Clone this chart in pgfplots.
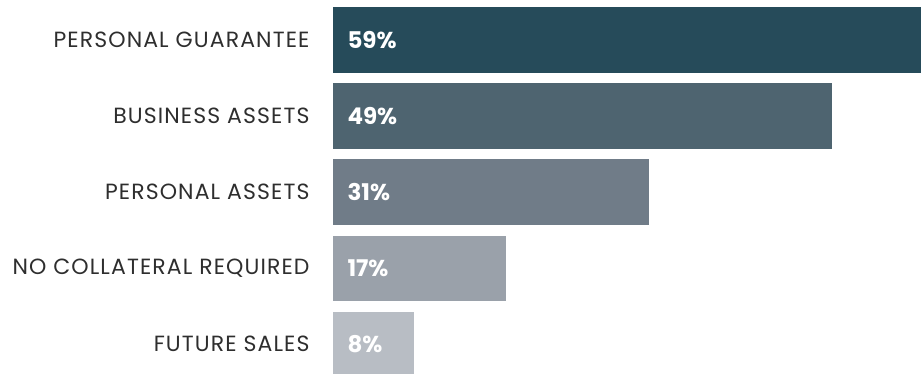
\documentclass[border=0pt]{standalone}
\usepackage{fontspec}
\setmainfont{Poppins}
\newfontfamily\labfont[LetterSpace=5]{Poppins}
\usepackage{pgfplots}
\pgfplotsset{compat=1.18}
\definecolor{c1}{HTML}{264B5A}
\definecolor{c2}{HTML}{4E6470}
\definecolor{c3}{HTML}{707C88}
\definecolor{c4}{HTML}{9AA1AA}
\definecolor{c5}{HTML}{B8BDC4}
\definecolor{lab}{HTML}{2E2E2E}
\begin{document}
\begin{tikzpicture}[x=1pt,y=1pt]
\begin{axis}[
  at={(333pt,0pt)}, anchor=south west,
  scale only axis, width=588pt, height=373pt,
  xmin=0, xmax=57.75, ymin=-0.377, ymax=4.524,
  axis line style={draw=none},
  xbar, bar width=65.4pt, bar shift=0pt,
  ytick={0,1,2,3,4},
  yticklabels={FUTURE SALES,NO COLLATERAL REQUIRED,PERSONAL ASSETS,BUSINESS ASSETS,PERSONAL GUARANTEE},
  xtick=\empty,
  major tick length=0pt,
  tick style={draw=none},
  yticklabel style={font=\labfont\fontsize{22}{26}\selectfont, text=lab, xshift=-20pt},
  clip=true,
]
\addplot[fill=c5, draw=none] coordinates {(8,0)};
\addplot[fill=c4, draw=none] coordinates {(17,1)};
\addplot[fill=c3, draw=none] coordinates {(31,2)};
\addplot[fill=c2, draw=none] coordinates {(49,3)};
\addplot[fill=c1, draw=none] coordinates {(59,4)};
\addplot[xbar=false, draw=none, mark=none, nodes near coords, point meta=explicit symbolic,
  every node near coord/.append style={anchor=west, xshift=11pt, yshift=0pt, text=white, font=\bfseries\fontsize{23}{26}\selectfont}]
  coordinates {(0,0) [8\%] (0,1) [17\%] (0,2) [31\%] (0,3) [49\%] (0,4) [59\%]};
\end{axis}
\pgfresetboundingbox
\path (0,0) rectangle (921pt,373pt);
\end{tikzpicture}
\end{document}
